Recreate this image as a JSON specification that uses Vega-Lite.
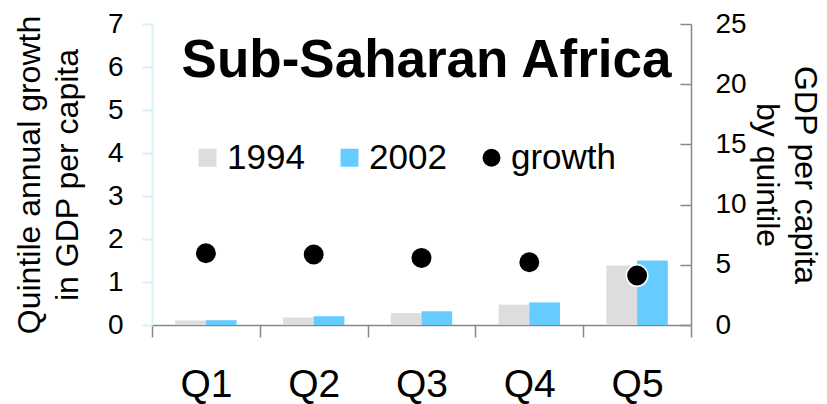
{
  "$schema": "https://vega.github.io/schema/vega-lite/v6.json",
  "autosize": {"type": "none"},
  "width": 539,
  "height": 301,
  "padding": {"left": 152, "top": 24, "right": 136, "bottom": 79},
  "background": "white",
  "title": {
    "text": "Sub-Saharan Africa",
    "font": "Liberation Sans",
    "fontSize": 53,
    "fontWeight": "bold",
    "color": "black",
    "anchor": "middle",
    "offset": -78,
    "dx": 5
  },
  "config": {
    "view": {"stroke": null},
    "font": "Liberation Sans",
    "axis": {"grid": false, "labelFont": "Liberation Sans", "titleFont": "Liberation Sans", "labelColor": "black", "titleColor": "black", "titleFontWeight": "normal"}
  },
  "data": {
    "values": [
      {"quintile": "Q1", "series": "1994", "gdp": 0.37},
      {"quintile": "Q1", "series": "2002", "gdp": 0.40},
      {"quintile": "Q1", "series": "growth", "growth": 1.67},
      {"quintile": "Q2", "series": "1994", "gdp": 0.62},
      {"quintile": "Q2", "series": "2002", "gdp": 0.73},
      {"quintile": "Q2", "series": "growth", "growth": 1.64},
      {"quintile": "Q3", "series": "1994", "gdp": 1.0},
      {"quintile": "Q3", "series": "2002", "gdp": 1.14},
      {"quintile": "Q3", "series": "growth", "growth": 1.56},
      {"quintile": "Q4", "series": "1994", "gdp": 1.69},
      {"quintile": "Q4", "series": "2002", "gdp": 1.88},
      {"quintile": "Q4", "series": "growth", "growth": 1.46},
      {"quintile": "Q5", "series": "1994", "gdp": 4.95},
      {"quintile": "Q5", "series": "2002", "gdp": 5.35},
      {"quintile": "Q5", "series": "growth", "growth": 1.15}
    ]
  },
  "encoding": {
    "x": {
      "field": "quintile",
      "type": "nominal",
      "scale": {"paddingInner": 0, "paddingOuter": 0},
      "axis": {
        "title": null,
        "labelAngle": 0,
        "labelFontSize": 39,
        "labelPadding": 28,
        "tickBand": "extent",
        "tickSize": 12,
        "tickColor": "#888888",
        "domainColor": "#888888",
        "domainWidth": 1.5,
        "tickWidth": 1.5
      }
    }
  },
  "layer": [
    {
      "transform": [{"filter": "datum.series !== 'growth'"}],
      "mark": {"type": "bar"},
      "encoding": {
        "xOffset": {"field": "series", "type": "nominal", "scale": {"paddingInner": 0, "paddingOuter": 0.755}},
        "y": {
          "field": "gdp",
          "type": "quantitative",
          "scale": {"domain": [0, 25], "nice": false},
          "axis": {
            "orient": "right",
            "title": ["GDP per capita", "by quintile"],
            "titleAngle": 90,
            "titleFontSize": 32,
            "titleLineHeight": 38,
            "titlePadding": 3,
            "values": [0, 5, 10, 15, 20, 25],
            "labelFontSize": 28,
            "tickSize": -11,
            "labelPadding": 35,
            "tickColor": "#888888",
            "domainColor": "#888888",
            "domainWidth": 1.5,
            "tickWidth": 1.5
          }
        },
        "color": {
          "field": "series",
          "type": "nominal",
          "scale": {"domain": ["1994", "2002", "growth"], "range": ["#dddddd", "#66ccff", "#000000"]},
          "legend": {
            "title": null,
            "orient": "none",
            "direction": "horizontal",
            "legendX": 38,
            "legendY": 116,
            "padding": 0,
            "labelFontSize": 35,
            "labelFont": "Liberation Sans",
            "labelColor": "black",
            "symbolSize": 324,
            "symbolType": "square",
            "labelOffset": 2,
            "columnPadding": 27,
            "symbolStrokeWidth": 0,
            "encode": {
              "symbols": {
                "update": {
                  "shape": {"signal": "datum.value === 'growth' ? 'circle' : 'square'"},
                  "size": {"value": 324},
                  "strokeWidth": {"value": 0}
                }
              }
            }
          }
        }
      }
    },
    {
      "transform": [{"filter": "datum.series === 'growth'"}],
      "mark": {"type": "point", "filled": true, "shape": "circle", "size": 460, "stroke": "white", "strokeWidth": 1.5, "opacity": 1},
      "encoding": {
        "y": {
          "field": "growth",
          "type": "quantitative",
          "scale": {"domain": [0, 7], "nice": false},
          "axis": {
            "orient": "left",
            "title": ["Quintile annual growth", "in GDP per capita"],
            "titleFontSize": 32,
            "titleLineHeight": 38,
            "titlePadding": 23,
            "values": [0, 1, 2, 3, 4, 5, 6, 7],
            "labelFontSize": 28,
            "tickSize": 10,
            "labelPadding": 19,
            "tickColor": "#d5f2f5",
            "domainColor": "#d5f2f5",
            "domainWidth": 2,
            "tickWidth": 2
          }
        },
        "color": {"field": "series", "type": "nominal"}
      }
    }
  ],
  "resolve": {"scale": {"y": "independent"}}
}
